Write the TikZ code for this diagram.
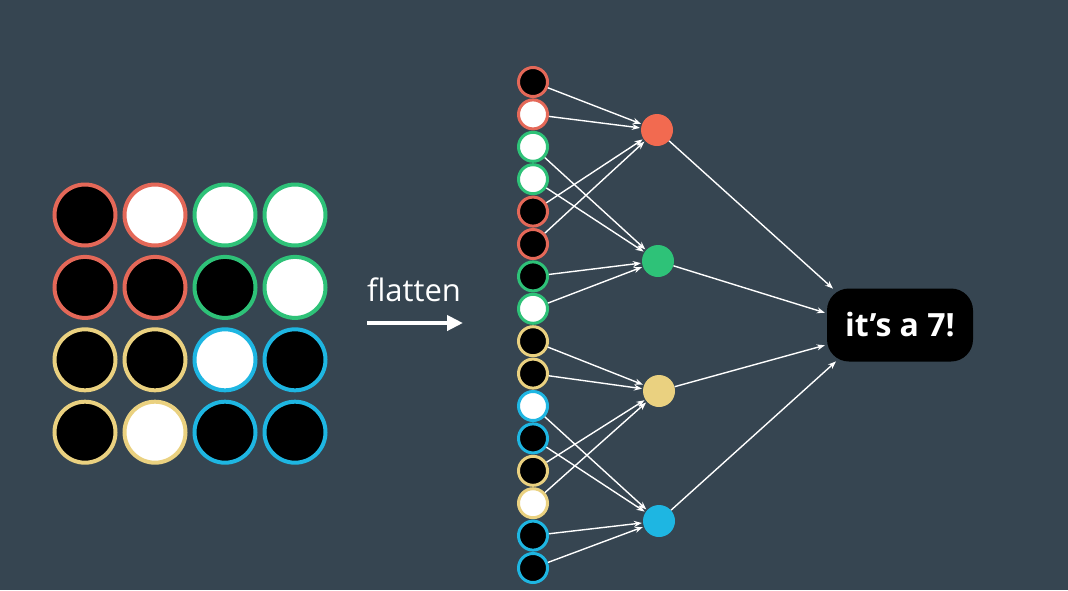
\documentclass[tikz,border=0pt]{standalone}
\usepackage{fontspec}
\setmainfont{Open Sans}
\usetikzlibrary{arrows.meta}
\definecolor{bg}{RGB}{54,69,81}
\definecolor{cred}{RGB}{228,104,88}
\definecolor{hred}{RGB}{242,106,80}
\definecolor{cgreen}{RGB}{46,194,120}
\definecolor{cyellow}{RGB}{234,209,128}
\definecolor{cblue}{RGB}{30,182,226}
\begin{document}
\begin{tikzpicture}[x=1pt,y=-1pt,
  gcell/.style={circle, inner sep=0pt, minimum size=61pt, line width=4pt},
  fcell/.style={circle, inner sep=0pt, minimum size=29pt, line width=3pt},
  hid/.style={circle, inner sep=0pt, minimum size=32pt},
  conn/.style={white, line width=1.4pt, shorten >=1pt, -{Stealth[length=8pt,width=6pt]}},
  bigarrow/.style={white, line width=4pt, -{Triangle[length=16pt,width=15pt]}},
  label/.style={text=white, font=\fontsize{31}{36}\selectfont},
  outbox/.style={fill=black, rounded corners=22pt, minimum width=146pt, minimum height=73pt, text=white, font=\bfseries\fontsize{32}{38}\selectfont}]
\fill[bg] (0,0) rectangle (1068,590);
\useasboundingbox (0,0) rectangle (1068,590);
% grid
\foreach \r/\cc/\ff [count=\k] in {
  1/cred/black, 1/cred/white, 1/cgreen/white, 1/cgreen/white,
  2/cred/black, 2/cred/black, 2/cgreen/black, 2/cgreen/white,
  3/cyellow/black, 3/cyellow/black, 3/cblue/white, 3/cblue/black,
  4/cyellow/black, 4/cyellow/white, 4/cblue/black, 4/cblue/black}{
  \pgfmathtruncatemacro{\col}{mod(\k-1,4)}
  \node[gcell, draw=\cc, fill=\ff] (g\k) at ({85+\col*70}, {215+(\r-1)*72.4}) {};
}
% flatten label and arrow
\node[label] (fl) at (414,290) {flatten};
\coordinate (a0) at (367,323);
\coordinate (a1) at (463,323);
\draw[bigarrow] (a0) -- (a1);
% flattened column
\foreach \cc/\ff [count=\k] in {
  cred/black, cred/white, cgreen/white, cgreen/white,
  cred/black, cred/black, cgreen/black, cgreen/white,
  cyellow/black, cyellow/black, cblue/white, cblue/black,
  cyellow/black, cyellow/white, cblue/black, cblue/black}{
  \node[fcell, draw=\cc, fill=\ff] (f\k) at (533, {82+(\k-1)*32.4}) {};
}
% hidden nodes
\node[hid, fill=hred] (h1) at (657,130) {};
\node[hid, fill=cgreen] (h2) at (658,261) {};
\node[hid, fill=cyellow] (h3) at (659,391) {};
\node[hid, fill=cblue] (h4) at (659,521) {};
% output
\node[outbox] (out) at (900,325) {it’s a 7!};
\coordinate (o1) at ([xshift=7pt,yshift=-1pt]out.north west);
\coordinate (o2) at ([xshift=-1pt,yshift=12pt]out.west);
\coordinate (o3) at ([xshift=-1pt,yshift=-20pt]out.west);
\coordinate (o4) at ([xshift=10pt,yshift=1pt]out.south west);
% connections
\foreach \s/\t in {1/1,2/1,5/1,6/1,3/2,4/2,7/2,8/2,9/3,10/3,13/3,14/3,11/4,12/4,15/4,16/4}{
  \draw[conn] (f\s) -- (h\t);
}
\foreach \t in {1,2,3,4}{
  \draw[conn] (h\t) -- (o\t);
}
\end{tikzpicture}
\end{document}
